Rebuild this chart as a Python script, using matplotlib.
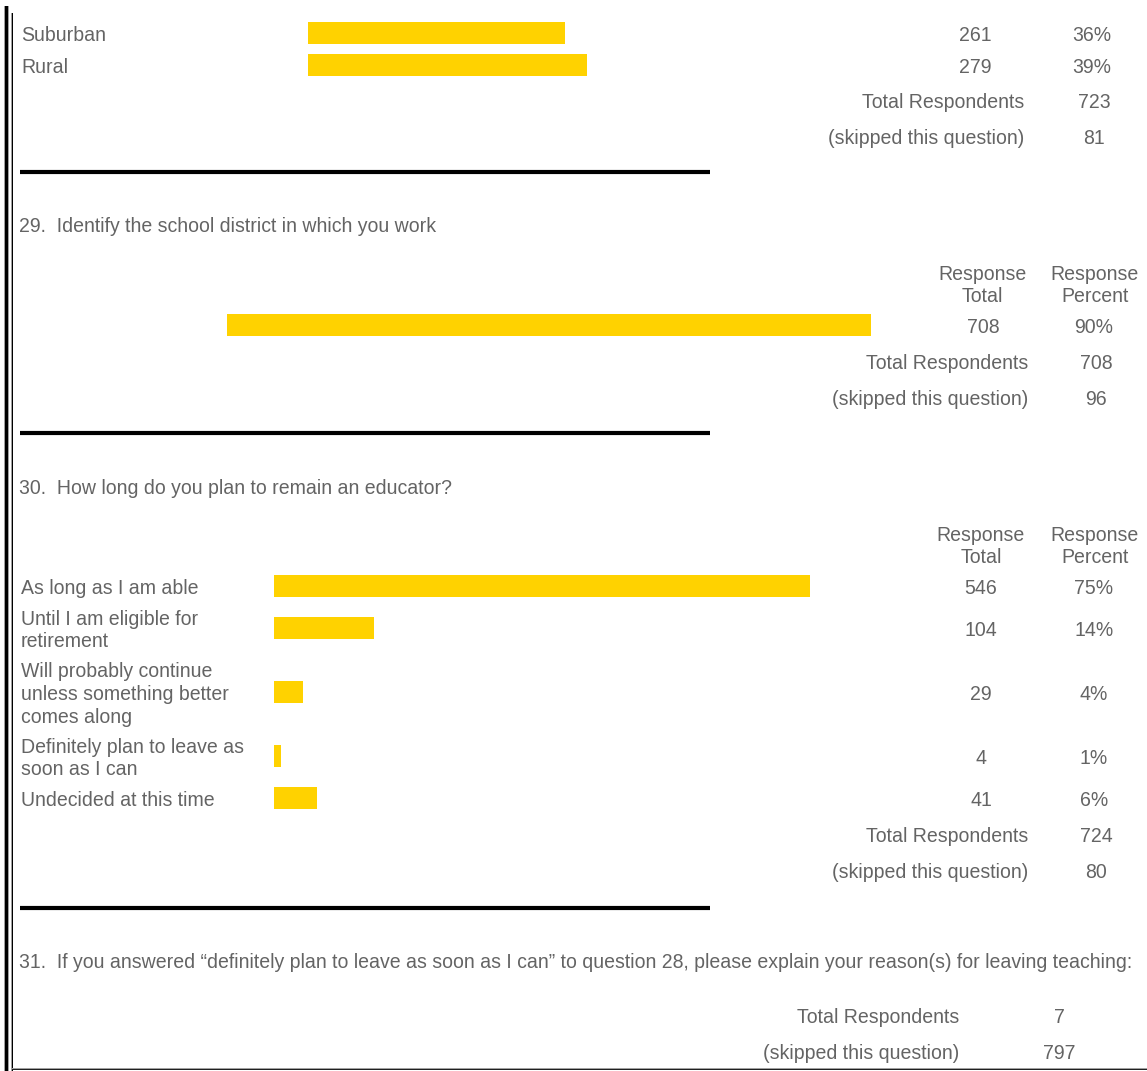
import matplotlib.pyplot as plt
from matplotlib.patches import Rectangle

# Dados das perguntas
q28_labels = ["Suburban", "Rural"]
q28_totals = [261, 279]
q28_pcts = [36, 39]
q28_respondents = 723
q28_skipped = 81

q29_title = "29.  Identify the school district in which you work"
q29_totals = [708]
q29_pcts = [90]
q29_respondents = 708
q29_skipped = 96

q30_title = "30.  How long do you plan to remain an educator?"
q30_labels = ["As long as I am able",
              "Until I am eligible for\nretirement",
              "Will probably continue\nunless something better\ncomes along",
              "Definitely plan to leave as\nsoon as I can",
              "Undecided at this time"]
q30_totals = [546, 104, 29, 4, 41]
q30_pcts = [75, 14, 4, 1, 6]
q30_respondents = 724
q30_skipped = 80

q31_title = ("31.  If you answered \u201cdefinitely plan to leave as soon as I can\u201d "
             "to question 28, please explain your reason(s) for leaving teaching:")
q31_respondents = 7
q31_skipped = 797

GRAY = "#646464"
GOLD = "#ffd200"
FS = 14.08
PX_PER_PCT = 7.15  # largura da barra por ponto percentual
DY = 2.5  # ajuste vertical do texto
plt.rcParams['font.family'] = ['Liberation Sans', 'DejaVu Sans']

fig = plt.figure(figsize=(11.47, 10.71), dpi=100)
ax = fig.add_axes([0, 0, 1, 1])
ax.set_xlim(0, 1147)
ax.set_ylim(1071, 0)
ax.axis("off")


def txt(x, y, s, ha="left", **kw):
    ax.text(x, y + DY, s, ha=ha, va="center", color=GRAY, fontsize=FS,
            linespacing=1.25, **kw)


def bars(ys, pcts, left):
    widths = [p * PX_PER_PCT for p in pcts]
    ax.barh(ys, widths, left=left, height=22, color=GOLD)


def header(y, xt, xp):
    txt(xt, y, "Response\nTotal", ha="center")
    txt(xp, y, "Response\nPercent", ha="center")


def footer(y, xr, xv, resp, skip):
    txt(xr, y, "Total Respondents", ha="right")
    txt(xv, y, str(resp), ha="center")
    txt(xr, y + 36, "(skipped this question)", ha="right")
    txt(xv, y + 36, str(skip), ha="center")


def separator(y):
    ax.plot([20, 710], [y, y], color="black", lw=3, solid_capstyle="butt")


# Pergunta 28 (parte final)
ys28 = [33, 65]
bars(ys28, q28_pcts, 308)
for y, lab, t, p in zip(ys28, q28_labels, q28_totals, q28_pcts):
    txt(21, y, lab)
    txt(975, y, str(t), ha="center")
    txt(1092, y, f"{p}%", ha="center")
footer(100, 1024, 1094, q28_respondents, q28_skipped)
separator(171.5)

# Pergunta 29
txt(19, 224, q29_title)
header(283, 982, 1095)
bars([325], q29_pcts, 227)
txt(983, 325, str(q29_totals[0]), ha="center")
txt(1094, 325, f"{q29_pcts[0]}%", ha="center")
footer(361, 1028, 1096, q29_respondents, q29_skipped)
separator(432.5)

# Pergunta 30
txt(19, 486, q30_title)
header(544, 981, 1095)
ys30 = [586, 628, 692, 756, 798]
bars(ys30, q30_pcts, 274)
for y, lab, t, p in zip(ys30, q30_labels, q30_totals, q30_pcts):
    txt(21, y, lab)
    txt(981, y, str(t), ha="center")
    txt(1094, y, f"{p}%", ha="center")
footer(834, 1028, 1096, q30_respondents, q30_skipped)
separator(907.5)

# Pergunta 31
txt(19, 960, q31_title)
footer(1015, 959, 1059, q31_respondents, q31_skipped)

# Bordas da página
ax.add_patch(Rectangle((4, 6), 4.5, 1071, color="#a0a0a0", lw=0))
ax.add_patch(Rectangle((5, 6), 2.5, 1071, color="black", lw=0))
ax.add_patch(Rectangle((11, 13), 2, 1058, color="#a0a0a0", lw=0))
ax.add_patch(Rectangle((12, 13), 1, 1058, color="black", lw=0))
ax.add_patch(Rectangle((12, 1067.5), 1135, 1, color="#a0a0a0", lw=0))
ax.add_patch(Rectangle((12, 1068.5), 1135, 1.5, color="#202020", lw=0))

fig.savefig("out.png", dpi=100)
